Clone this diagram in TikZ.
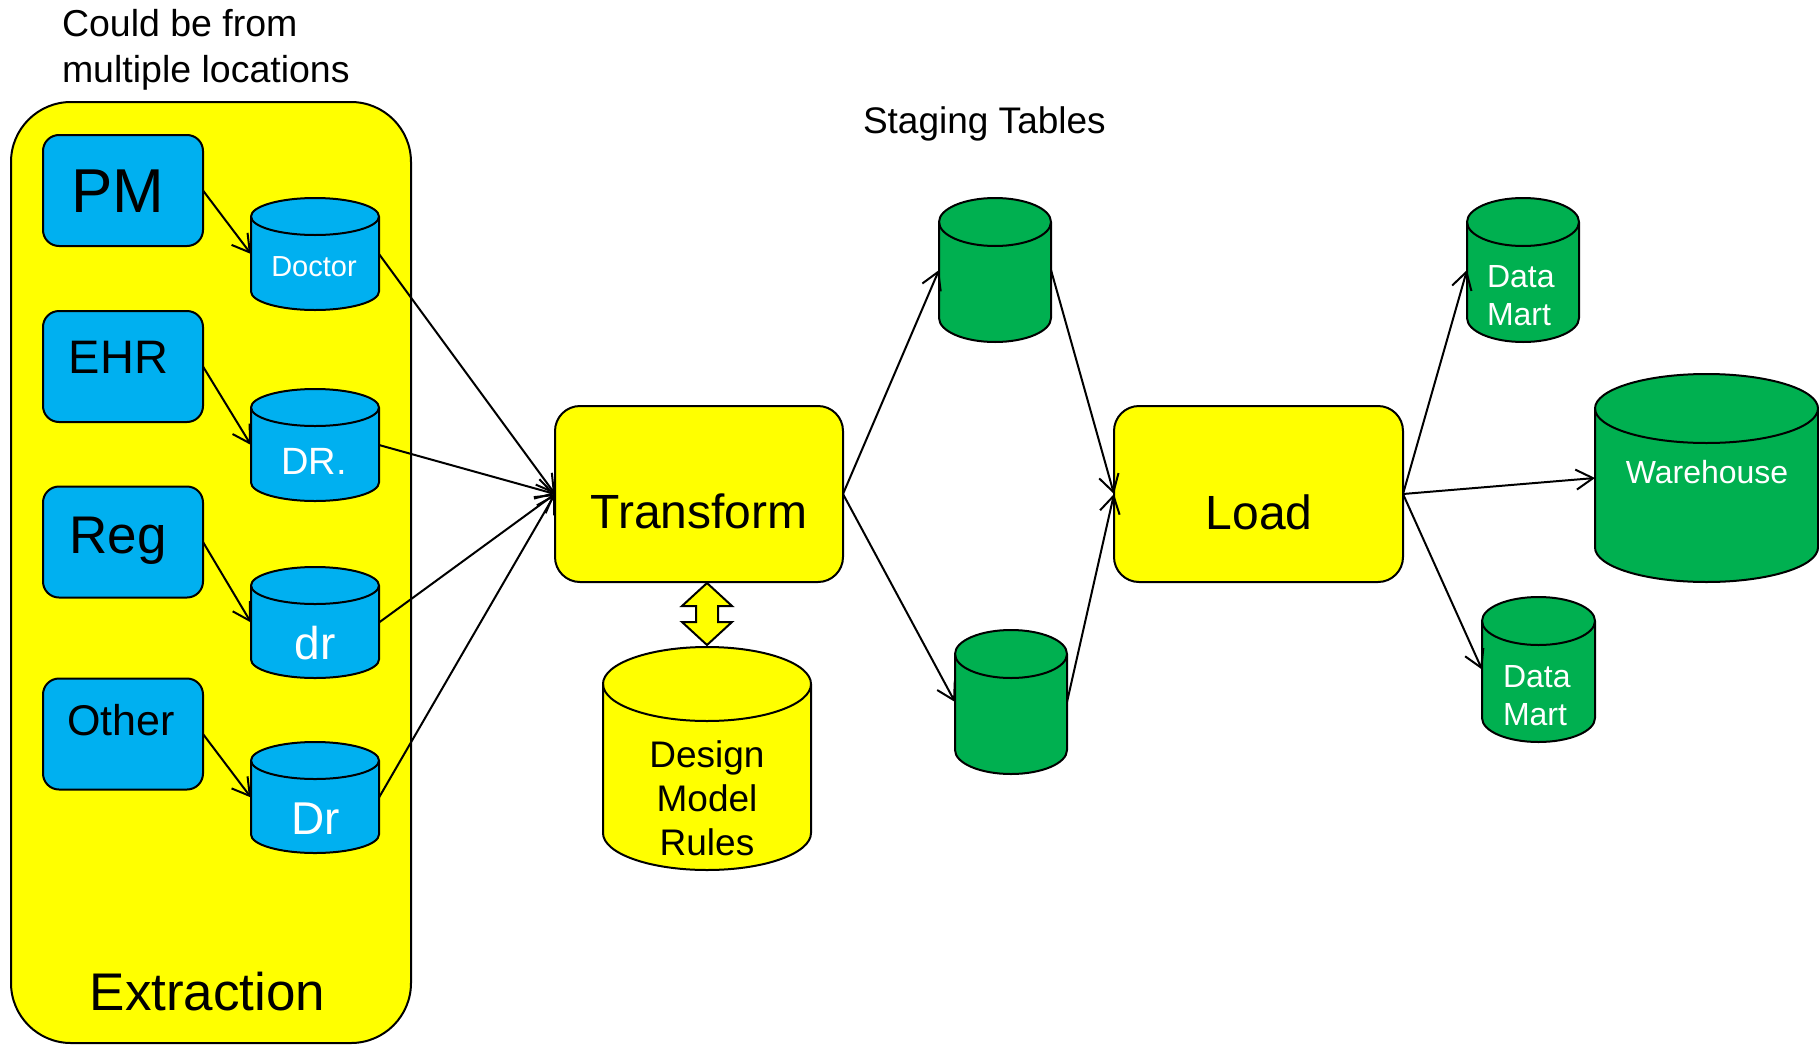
\documentclass[tikz,border=0pt]{standalone}
\usepackage{fontspec}
\setmainfont{Liberation Sans}
\usetikzlibrary{arrows.meta,calc}
\definecolor{pblue}{HTML}{00B0F0}
\definecolor{pgreen}{HTML}{00B050}
\definecolor{pyellow}{HTML}{FFFF00}
\newcommand\fsz[1]{\fontsize{#1}{#1}\selectfont}
\tikzset{
  rbox/.style={draw=black, line width=2pt, rounded corners=#1, inner sep=0pt, outer sep=0pt},
  srcbox/.style={rbox=16pt, fill=pblue, minimum width=160pt, minimum height=111pt},
  stepbox/.style={rbox=25pt, fill=pyellow, minimum width=288pt, minimum height=176pt},
  cylbox/.style={inner sep=0pt, outer sep=0pt, draw=none},
  cylline/.style={draw=black, line width=2pt, line join=round},
  lbl/.style={inner sep=0pt, outer sep=0pt, anchor=base},
  lblw/.style={inner sep=0pt, outer sep=0pt, anchor=base west},
  conn/.style={draw=black, line width=2pt, -{Straight Barb[length=17pt,width=20pt]}},
}
\newcommand\drawcyl[3]{%
  \path[cylline, fill=#2] let \p1=(#1.north west), \p2=(#1.south east), \n1={(\x2-\x1)/2} in
    (\x1,{\y1-#3}) -- (\x1,{\y2+#3})
    arc[start angle=180, end angle=360, x radius={\n1*1pt}, y radius=#3]
    -- (\x2,{\y1-#3})
    arc[start angle=0, end angle=180, x radius={\n1*1pt}, y radius=#3]
    -- cycle;
  \path[cylline] let \p1=(#1.north west), \p2=(#1.south east), \n1={(\x2-\x1)/2} in
    (\x1,{\y1-#3}) arc[start angle=180, end angle=360, x radius={\n1*1pt}, y radius=#3];
}
\begin{document}
\begin{tikzpicture}[x=1pt, y=-1pt]
\useasboundingbox (0,0) rectangle (1819,1044);

% top notes
\node[lblw, font=\fsz{37.5}] (note1) at (62,36) {Could be from};
\node[lblw, font=\fsz{37.5}] (note2) at (62,82) {multiple locations};
\node[lblw, font=\fsz{37}] (stg) at (863,133) {Staging Tables};

% extraction container
\node[rbox=60pt, fill=pyellow, minimum width=400pt, minimum height=941pt] (ext) at (211,572.5) {};
\node[lbl, font=\fsz{53}] (extt) at (207.5,1010) {Extraction};

% source boxes
\node[srcbox] (pm) at (123,190.5) {};
\node[srcbox] (ehr) at (123,366.5) {};
\node[srcbox] (reg) at (123,542) {};
\node[srcbox] (oth) at (123,734) {};
\node[lbl, font=\fsz{62}] (pmt) at (117.5,212) {PM};
\node[lbl, font=\fsz{47}] (ehrt) at (118.5,373) {EHR};
\node[lbl, font=\fsz{53}] (regt) at (118,553) {Reg};
\node[lbl, font=\fsz{43}] (otht) at (121,735) {Other};

% source cylinders
\node[cylbox, minimum width=128pt, minimum height=112pt] (doc) at (315,254) {};
\drawcyl{doc}{pblue}{18.5pt}
\node[cylbox, minimum width=128pt, minimum height=112pt] (dra) at (315,445) {};
\drawcyl{dra}{pblue}{18.5pt}
\node[cylbox, minimum width=128pt, minimum height=111pt] (drb) at (315,622.5) {};
\drawcyl{drb}{pblue}{18.5pt}
\node[cylbox, minimum width=128pt, minimum height=111pt] (drc) at (315,797.5) {};
\drawcyl{drc}{pblue}{18.5pt}
\node[lbl, font=\fsz{29}, text=white] (doct) at (314,276) {Doctor};
\node[lbl, font=\fsz{38}, text=white] (drat) at (314,474) {DR.};
\node[lbl, font=\fsz{46}, text=white] (drbt) at (315,659) {dr};
\node[lbl, font=\fsz{46}, text=white] (drct) at (316,834) {Dr};

% transform and load
\node[stepbox] (tr) at (699,494) {};
\node[lbl, font=\fsz{48}] (trt) at (699,528) {Transform};
\node[stepbox, minimum width=289pt] (ld) at (1258.5,494) {};
\node[lbl, font=\fsz{48}] (ldt) at (1259,529) {Load};

% design cylinder
\node[cylbox, minimum width=208pt, minimum height=223pt] (dm) at (707,758.5) {};
\drawcyl{dm}{pyellow}{37pt}
\node[lbl, font=\fsz{37}] (dmt1) at (707,767) {Design};
\node[lbl, font=\fsz{37}] (dmt2) at (707,811) {Model};
\node[lbl, font=\fsz{37}] (dmt3) at (707,855) {Rules};

% double arrow
\draw[line width=2pt, fill=pyellow, line join=miter]
  (707,583) -- (682,606) -- (696,606) -- (696,622) -- (682,622) -- (707,645)
  -- (732,622) -- (718,622) -- (718,606) -- (732,606) -- cycle;

% staging cylinders
\node[cylbox, minimum width=112pt, minimum height=144pt] (st1) at (995,270) {};
\drawcyl{st1}{pgreen}{24pt}
\node[cylbox, minimum width=112pt, minimum height=144pt] (st2) at (1011,702) {};
\drawcyl{st2}{pgreen}{24pt}

% targets
\node[cylbox, minimum width=112pt, minimum height=144pt] (dm1) at (1523,270) {};
\drawcyl{dm1}{pgreen}{24pt}
\node[cylbox, minimum width=113pt, minimum height=145pt] (dm2) at (1538.5,669.5) {};
\drawcyl{dm2}{pgreen}{24pt}
\node[cylbox, minimum width=223pt, minimum height=208pt] (wh) at (1706.5,478) {};
\drawcyl{wh}{pgreen}{34.5pt}
\node[lblw, font=\fsz{32}, text=white] (dm1a) at (1487,287) {Data};
\node[lblw, font=\fsz{32}, text=white] (dm1b) at (1487,325) {Mart};
\node[lblw, font=\fsz{32}, text=white] (dm2a) at (1503,687) {Data};
\node[lblw, font=\fsz{32}, text=white] (dm2b) at (1503,725) {Mart};
\node[lbl, font=\fsz{32}, text=white] (wht) at (1707,483) {Warehouse};

% connectors
\draw[conn] (pm.east) -- (doc.west);
\draw[conn] (ehr.east) -- (dra.west);
\draw[conn] (reg.east) -- (drb.west);
\draw[conn] (oth.east) -- (drc.west);
\draw[conn] (doc.east) -- (tr.west);
\draw[conn] (dra.east) -- (tr.west);
\draw[conn] (drb.east) -- (tr.west);
\draw[conn] (drc.east) -- (tr.west);
\draw[conn] (tr.east) -- (st1.west);
\draw[conn] (tr.east) -- (st2.west);
\draw[conn] (st1.east) -- (ld.west);
\draw[conn] (st2.east) -- (ld.west);
\draw[conn] (ld.east) -- (dm1.west);
\draw[conn] (ld.east) -- (wh.west);
\draw[conn] (ld.east) -- (dm2.west);
\end{tikzpicture}
\end{document}
